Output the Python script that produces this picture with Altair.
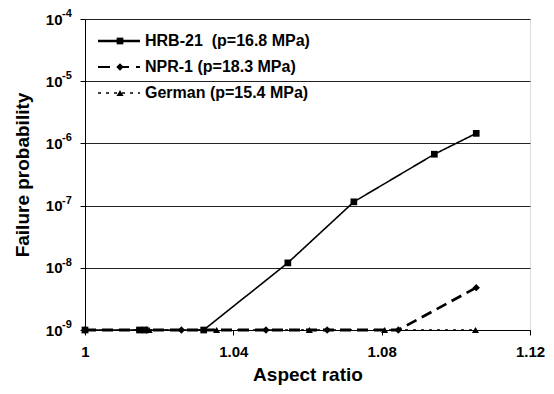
import altair as alt
import pandas as pd

# ---- data ----
hrb_x = [1.0, 1.0147, 1.0162, 1.032, 1.0547, 1.0725, 1.0942, 1.1055]
hrb_y = [1e-9, 1e-9, 1e-9, 1e-9, 1.2e-8, 1.15e-7, 6.7e-7, 1.45e-6]

npr_x = [1.0, 1.0165, 1.026, 1.0488, 1.0653, 1.0845, 1.1055]
npr_y = [1e-9, 1e-9, 1e-9, 1e-9, 1e-9, 1e-9, 4.8e-9]

ger_x = [1.0, 1.0173, 1.0355, 1.0605, 1.0808, 1.1053]
ger_y = [1e-9, 1e-9, 1e-9, 1e-9, 1e-9, 1e-9]

series_labels = ["HRB-21\u00a0 (p=16.8 MPa)", "NPR-1 (p=18.3 MPa)", "German (p=15.4 MPa)"]
x_ticks = [1.0, 1.04, 1.08, 1.12]
y_ticks = [1e-9, 1e-8, 1e-7, 1e-6, 1e-5, 1e-4]
y_exponents = ["-9", "-8", "-7", "-6", "-5", "-4"]

FONT = "Liberation Sans"

hrb = pd.DataFrame({"x": hrb_x, "y": hrb_y})
npr = pd.DataFrame({"x": npr_x, "y": npr_y})
ger = pd.DataFrame({"x": ger_x, "y": ger_y})
exps = pd.DataFrame({"y": y_ticks, "e": y_exponents})

xs = alt.X(
    "x:Q",
    scale=alt.Scale(domain=[1.0, 1.12], nice=False, zero=False),
    axis=alt.Axis(
        values=x_ticks, format=".2~f", title="Aspect ratio", grid=False,
        labelFont=FONT, labelFontSize=15, labelFontWeight="bold", labelColor="black",
        titleFont=FONT, titleFontSize=19, titleFontWeight="bold", titleColor="black",
        tickColor="black", tickSize=5, domainColor="black", labelPadding=9,
        titlePadding=6, labelFlush=False,
    ),
)
ys = alt.Y(
    "y:Q",
    scale=alt.Scale(type="log", domain=[1e-9, 1e-4], nice=False),
    axis=alt.Axis(
        values=y_ticks, labelExpr="'10'", title="Failure probability",
        grid=True, gridColor="#222222", gridWidth=1,
        labelFont=FONT, labelFontSize=15, labelFontWeight="bold", labelColor="black",
        titleFont=FONT, titleFontSize=19, titleFontWeight="bold", titleColor="black",
        tickColor="black", tickSize=5, domainColor="black", labelPadding=18,
        titlePadding=13,
    ),
)


def series(df, dash, width, shape, size):
    line = alt.Chart(df).mark_line(color="black", strokeWidth=width, strokeDash=dash).encode(x=xs, y=ys)
    pts = alt.Chart(df).mark_point(color="black", filled=True, opacity=1, shape=shape, size=size).encode(x=xs, y=ys)
    return line + pts


hrb_layer = series(hrb, [1, 0], 1.6, "square", 45)
npr_layer = series(npr, [11, 6], 2.8, "diamond", 55)
ger_layer = series(ger, [3, 5], 1.5, "triangle-up", 50)

# exponent superscripts next to the "10" axis labels
exp_layer = alt.Chart(exps).mark_text(
    align="left", baseline="middle", font=FONT, fontSize=11, fontWeight="bold",
    color="black", dy=-5,
).encode(x=alt.value(-23), y=ys, text="e:N")

# ---- manual legend (top-left inside plot) ----
leg_rows = [
    (series_labels[0], [1, 0], 2.6, "square", 45, 22),
    (series_labels[1], [12, 7], 1.8, "diamond", 55, 48),
    (series_labels[2], [3, 5], 1.5, "triangle-up", 50, 74),
]
legend_layers = []
for lab, dash, w, shp, sz, yy in leg_rows:
    d = pd.DataFrame({"label": [lab]})
    base = alt.Chart(d)
    legend_layers.append(
        base.mark_rule(color="black", strokeWidth=w, strokeDash=dash).encode(
            x=alt.value(13), x2=alt.value(55), y=alt.value(yy)
        )
    )
    legend_layers.append(
        base.mark_point(color="black", filled=True, opacity=1, shape=shp, size=sz).encode(
            x=alt.value(35), y=alt.value(yy)
        )
    )
    legend_layers.append(
        base.mark_text(align="left", baseline="middle", font=FONT, fontSize=16,
                       fontWeight="bold", color="black").encode(
            x=alt.value(60), y=alt.value(yy), text="label:N"
        )
    )

chart = alt.layer(hrb_layer, npr_layer, ger_layer, exp_layer, *legend_layers).properties(
    width=445,
    height=311,
    autosize=alt.AutoSizeParams(type="none"),
    padding={"left": 77, "top": 11, "right": 16, "bottom": 56},
).configure_view(stroke="black", strokeWidth=1).configure(background="white")

chart.save("out.html", embed_options={"renderer": "svg", "actions": False})
